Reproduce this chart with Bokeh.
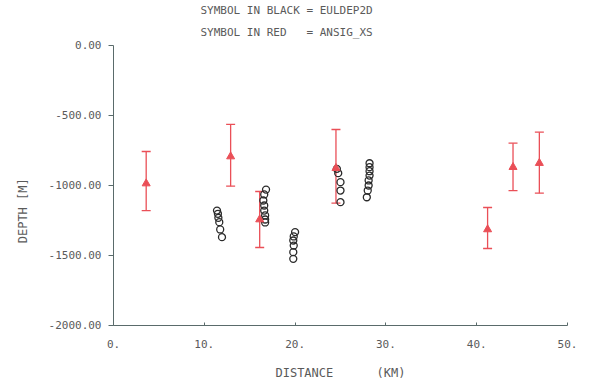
from bokeh.plotting import figure
from bokeh.models import Range1d, FixedTicker, Whisker, ColumnDataSource, TeeHead, Title
from bokeh.embed import file_html
from bokeh.resources import INLINE

# ---- data ----
red_x = [3.6, 12.9, 16.1, 24.5, 41.2, 44.0, 46.9]
red_y = [-986, -793, -1243, -876, -1314, -869, -840]
red_top = [-757, -564, -1043, -600, -1157, -698, -619]
red_bot = [-1179, -1005, -1443, -1126, -1450, -1036, -1055]

blk_x = [11.4, 11.5, 11.55, 11.65, 11.75, 11.95,
         16.8, 16.6, 16.5, 16.6, 16.6, 16.7, 16.7, 16.7,
         20.0, 19.85, 19.8, 19.85, 19.8, 19.8,
         24.6, 24.75, 25.0, 25.0, 25.0,
         28.2, 28.2, 28.2, 28.2, 28.1, 28.1, 28.0, 27.9]
blk_y = [-1179, -1202, -1231, -1262, -1314, -1369,
         -1029, -1064, -1107, -1143, -1179, -1214, -1243, -1264,
         -1333, -1364, -1393, -1429, -1476, -1524,
         -881, -912, -976, -1036, -1119,
         -841, -869, -898, -929, -964, -1000, -1036, -1084]

x_ticks = [0, 10, 20, 30, 40, 50]
x_tick_labels = ["0.", "10.", "20.", "30.", "40.", "50."]
y_ticks = [0, -500, -1000, -1500, -2000]
y_tick_labels = ["0.00", "-500.00", "-1000.00", "-1500.00", "-2000.00"]

title_1 = "SYMBOL IN BLACK = EULDEP2D"
title_2 = "SYMBOL IN RED\u00a0\u00a0\u00a0= ANSIG_XS"
x_label = "DISTANCE\u00a0\u00a0\u00a0\u00a0\u00a0\u00a0(KM)"
y_label = "DEPTH [M]" + "\u00a0" * 7

RED = "#ea4f57"
BLACK = "#2b2b2b"
AXIS = "#5a6b6b"
TEXT = "#5a5a5a"
FONT = "DejaVu Sans Mono"

p = figure(width=602, height=384, x_range=Range1d(0, 50), y_range=Range1d(-2000, 0),
           output_backend="svg", toolbar_location=None,
           min_border_left=113, min_border_right=35, min_border_top=45, min_border_bottom=59)
p.outline_line_color = None
p.grid.visible = False
p.background_fill_color = "white"
p.border_fill_color = "white"

xa = p.xaxis[0]
xa.ticker = FixedTicker(ticks=x_ticks)
xa.major_label_overrides = {t: l for t, l in zip(x_ticks, x_tick_labels)}
xa.minor_tick_line_color = None
xa.major_tick_in = 3
xa.major_tick_out = 0
xa.axis_line_color = AXIS
xa.major_tick_line_color = AXIS
xa.major_label_text_font = FONT
xa.major_label_text_font_size = "11px"
xa.major_label_text_color = TEXT
xa.major_label_standoff = 14
xa.axis_label = x_label
xa.axis_label_text_font = FONT
xa.axis_label_text_font_size = "12px"
xa.axis_label_text_font_style = "normal"
xa.axis_label_text_color = TEXT
xa.axis_label_standoff = 15

ya = p.yaxis[0]
ya.ticker = FixedTicker(ticks=y_ticks)
width8 = max(len(s) for s in y_tick_labels)
ya.major_label_overrides = {t: "\u00a0" * (width8 - len(l)) + l for t, l in zip(y_ticks, y_tick_labels)}
ya.minor_tick_line_color = None
ya.major_tick_in = 0
ya.major_tick_out = 5
ya.axis_line_color = AXIS
ya.major_tick_line_color = AXIS
ya.major_label_text_font = FONT
ya.major_label_text_font_size = "11px"
ya.major_label_text_color = TEXT
ya.major_label_standoff = 7
ya.axis_label = y_label
ya.axis_label_text_font = FONT
ya.axis_label_text_font_size = "12px"
ya.axis_label_text_font_style = "normal"
ya.axis_label_text_color = TEXT
ya.axis_label_standoff = 16

# black symbols
p.scatter(blk_x, blk_y, marker="circle", size=7, fill_color=None,
          line_color=BLACK, line_width=1.3)

# red symbols with error bars
src = ColumnDataSource(data=dict(x=red_x, y=red_y, top=red_top, bot=red_bot))
wh = Whisker(source=src, base="x", upper="top", lower="bot",
             line_color=RED, line_width=1.3,
             upper_head=TeeHead(size=9, line_color=RED, line_width=1.3),
             lower_head=TeeHead(size=9, line_color=RED, line_width=1.3))
p.add_layout(wh)
p.scatter("x", "y", source=src, marker="triangle", size=8,
          fill_color=RED, line_color=RED)

# two-line heading (inner line added first)
p.add_layout(Title(text=title_2, align="left", offset=87, standoff=14,
                   text_font=FONT, text_font_size="11px", text_font_style="normal",
                   text_color=TEXT), "above")
p.add_layout(Title(text=title_1, align="left", offset=87, standoff=0,
                   text_font=FONT, text_font_size="11px", text_font_style="normal",
                   text_color=TEXT), "above")

open("out.html", "w").write(file_html(p, INLINE))
